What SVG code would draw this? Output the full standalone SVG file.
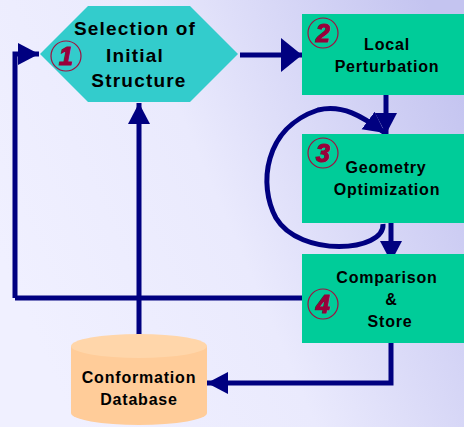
<svg xmlns="http://www.w3.org/2000/svg" width="464" height="427" viewBox="0 0 464 427">
<defs>
<linearGradient id="bg" x1="0" y1="0.6" x2="1" y2="0.2">
<stop offset="0" stop-color="#f0f0ff"/>
<stop offset="0.45" stop-color="#eaeafd"/>
<stop offset="1" stop-color="#c4c4f0"/>
</linearGradient>
<marker id="ah" markerUnits="userSpaceOnUse" markerWidth="22" markerHeight="24" refX="21" refY="11" orient="auto" viewBox="0 0 22 22">
<path d="M0,0 L21,11 L0,22 Z" fill="#000080"/>
</marker>
<marker id="ahBig" markerUnits="userSpaceOnUse" markerWidth="22" markerHeight="36" refX="21" refY="17" orient="auto" viewBox="0 0 22 34">
<path d="M0,0 L21,17 L0,34 Z" fill="#000080"/>
</marker>
</defs>
<style>
.ln{fill:none;stroke:#000080;stroke-width:5}
.t{font-family:"Liberation Sans",Arial,sans-serif;font-weight:bold;fill:#000;text-anchor:middle}
.box{fill:#00cc99}
.num{fill:none;stroke:#a01040;stroke-width:1.2}
.nt{font-family:"Liberation Sans",Arial,sans-serif;font-weight:bold;font-style:italic;fill:#99003a;stroke:#99003a;stroke-width:1.2;text-anchor:middle;font-size:25px}
</style>
<rect width="464" height="427" fill="url(#bg)"/>
<g id="connectors">
<path class="ln" d="M15,298 L15,54 L39,54" marker-end="url(#ah)"/>
<path class="ln" d="M302,298 L15,298"/>
<path class="ln" d="M240,55 L302,55" marker-end="url(#ahBig)"/>
<path class="ln" d="M386,95 L386,134" marker-end="url(#ah)"/>
<path class="ln" d="M383,224 C385,252 300,258 276,218 C258,185 264,128 318,110 C342,104 362,116 385,133" marker-end="url(#ah)"/>
<path class="ln" d="M391,222 L391,262" marker-end="url(#ah)"/>
<path class="ln" d="M139,336 L139,103" marker-end="url(#ah)"/>
<path class="ln" d="M391,342 L391,383 L207,383" marker-end="url(#ah)"/>
</g>
<g id="node1">
<polygon points="40,54 88,6 190,6 238,54 190,102 88,102" fill="#33cccc"/>
<circle class="num" cx="66" cy="56" r="15"/>
<text class="nt" x="66" y="65">1</text>
<text class="t" x="135" y="35" font-size="19" letter-spacing="1.2">Selection of</text>
<text class="t" x="135" y="62" font-size="19" letter-spacing="1.2">Initial</text>
<text class="t" x="139" y="87" font-size="19" letter-spacing="1.2">Structure</text>
</g>
<g id="node2">
<rect class="box" x="302" y="14" width="162" height="81"/>
<circle class="num" cx="323" cy="33" r="15"/>
<text class="nt" x="323" y="42">2</text>
<text class="t" x="387" y="50" font-size="16" letter-spacing="0.8">Local</text>
<text class="t" x="387" y="72" font-size="16" letter-spacing="0.8">Perturbation</text>
</g>
<g id="node3">
<rect class="box" x="302" y="134" width="162" height="89"/>
<circle class="num" cx="323" cy="153" r="15"/>
<text class="nt" x="323" y="162">3</text>
<text class="t" x="386" y="173" font-size="16" letter-spacing="0.8">Geometry</text>
<text class="t" x="387" y="195" font-size="16" letter-spacing="0.8">Optimization</text>
</g>
<g id="node4">
<rect class="box" x="302" y="254" width="162" height="89"/>
<circle class="num" cx="323" cy="304" r="15"/>
<text class="nt" x="323" y="313">4</text>
<text class="t" x="387" y="283" font-size="16" letter-spacing="0.8">Comparison</text>
<text class="t" x="391" y="305" font-size="16">&amp;</text>
<text class="t" x="390" y="327" font-size="16" letter-spacing="0.8">Store</text>
</g>
<g id="database">
<path d="M71,346 L71,413 A68,12 0 0 0 207,413 L207,346 Z" fill="#ffcc99"/>
<ellipse cx="139" cy="346" rx="68" ry="12" fill="#ffd6aa"/>
<text class="t" x="139" y="383" font-size="16" letter-spacing="0.8">Conformation</text>
<text class="t" x="139" y="405" font-size="16" letter-spacing="0.8">Database</text>
</g>
</svg>
